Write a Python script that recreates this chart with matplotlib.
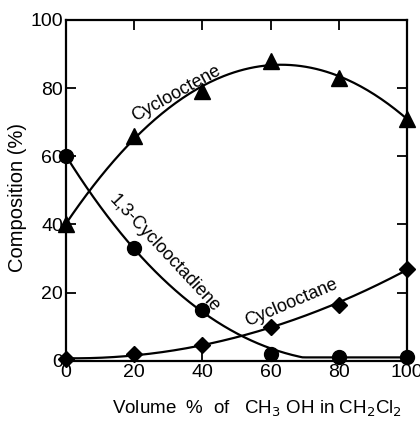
import numpy as np
import matplotlib
matplotlib.use("Agg")
from matplotlib import pyplot as plt

volume = [0, 20, 40, 60, 80, 100]
cyclooctene = [40, 66, 79, 88, 83, 71]
cyclooctadiene = [60, 33, 15, 2, 1, 1]
cyclooctane = [0.5, 2, 4.5, 10, 16.5, 27]
ticks = [0, 20, 40, 60, 80, 100]

plt.rcParams['font.family'] = ['Liberation Sans', 'DejaVu Sans']

fig = plt.figure(figsize=(4.2, 4.22), dpi=100)
ax = fig.add_axes([0.157, 0.145, 0.812, 0.808])

xs = np.linspace(0, 100, 200)

def smooth(ys, deg):
    c = np.polyfit(volume, ys, deg)
    return np.polyval(c, xs)

ax.plot(xs, smooth(cyclooctene, 3), color='black', lw=1.6)
ax.plot(xs, np.clip(smooth(cyclooctadiene, 3), 1, None), color='black', lw=1.6)
ax.plot(xs, smooth(cyclooctane, 2), color='black', lw=1.6)

ax.plot(volume, cyclooctene, '^', color='black', ms=11, clip_on=False)
ax.plot(volume, cyclooctadiene, 'o', color='black', ms=10, clip_on=False)
ax.plot(volume, cyclooctane, 'D', color='black', ms=8.5, clip_on=False)

ax.text(32.5, 78.5, "Cyclooctene", rotation=29, ha='center', va='center', fontsize=13)
ax.text(29, 31.5, "1,3-Cyclooctadiene", rotation=-47, ha='center', va='center', fontsize=13)
ax.text(66, 17, "Cyclooctane", rotation=23, ha='center', va='center', fontsize=13)

ax.set_xlim(0, 100)
ax.set_ylim(0, 100)
ax.set_xticks(ticks)
ax.set_yticks(ticks)
ax.tick_params(direction='in', top=True, right=True, labelsize=14, length=7, width=1.3, pad=2)
for s in ax.spines.values():
    s.set_linewidth(1.6)

ax.set_ylabel("Composition (%)", fontsize=14.5)
ax.yaxis.set_label_coords(-0.114, 0.48)
ax.set_xlabel("Volume  %  of   CH$_3$ OH in CH$_2$Cl$_2$", fontsize=13.5)
ax.xaxis.set_label_coords(0.56, -0.112)

fig.savefig("out.png", dpi=100)
